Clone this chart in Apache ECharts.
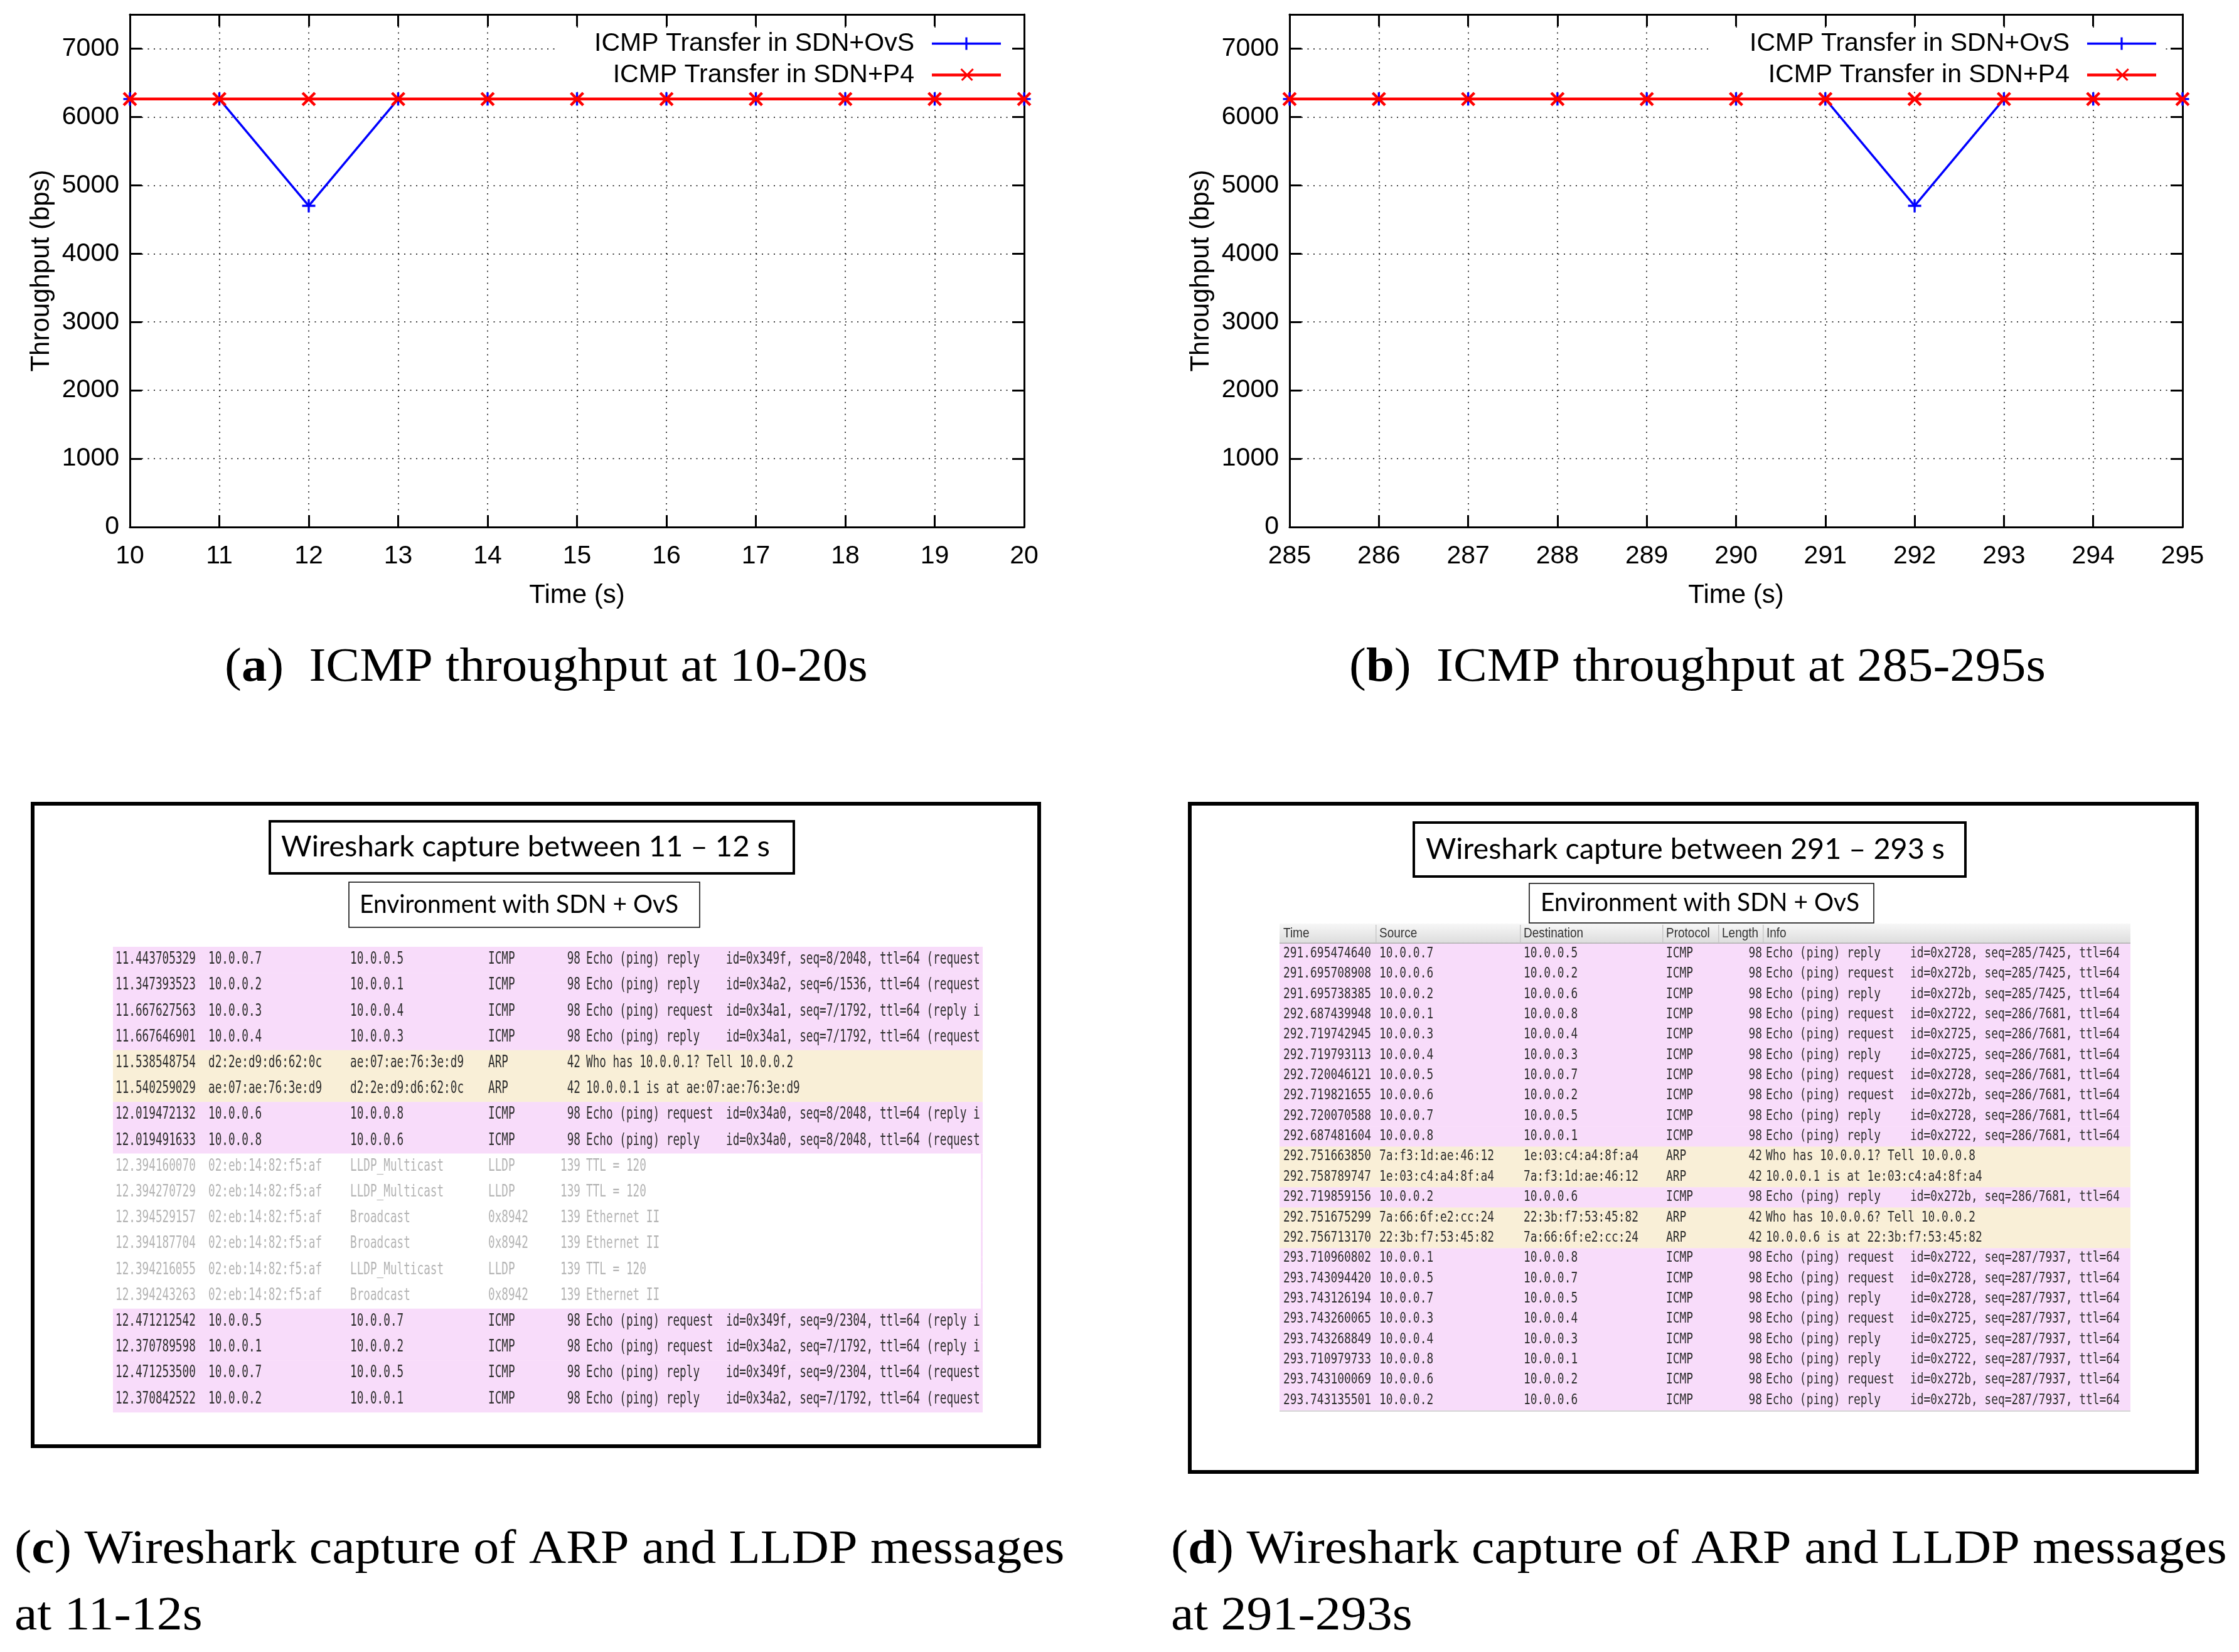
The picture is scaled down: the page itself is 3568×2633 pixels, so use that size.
<!DOCTYPE html>
<html><head><meta charset="utf-8">
<script src="https://cdn.jsdelivr.net/npm/echarts@6/dist/echarts.min.js"></script>
<style>html,body{margin:0;padding:0;background:#fff}#c{width:3568px;height:2633px}</style>
</head><body><div id="c"></div>
<script>
// ---------------- DATA ----------------
const seriesNames = ['ICMP Transfer in SDN+OvS', 'ICMP Transfer in SDN+P4'];
const timeA = [10, 11, 12, 13, 14, 15, 16, 17, 18, 19, 20];
const ovsA  = [6262, 6262, 4700, 6262, 6262, 6262, 6262, 6262, 6262, 6262, 6262];
const p4A   = [6262, 6262, 6262, 6262, 6262, 6262, 6262, 6262, 6262, 6262, 6262];
const timeB = [285, 286, 287, 288, 289, 290, 291, 292, 293, 294, 295];
const ovsB  = [6262, 6262, 6262, 6262, 6262, 6262, 6262, 4700, 6262, 6262, 6262];
const p4B   = [6262, 6262, 6262, 6262, 6262, 6262, 6262, 6262, 6262, 6262, 6262];
const yAxisName = 'Throughput (bps)';
const xAxisName = 'Time (s)';

const captionA = '({b|a})  ICMP throughput at 10-20s';
const captionB = '({b|b})  ICMP throughput at 285-295s';
const captionC = ['({b|c}) Wireshark capture of ARP and LLDP messages', 'at 11-12s'];
const captionD = ['({b|d}) Wireshark capture of ARP and LLDP messages', 'at 291-293s'];

const titleC = 'Wireshark capture between 11 \u2013 12 s';
const titleD = 'Wireshark capture between 291 \u2013 293 s';
const envLabel = 'Environment with SDN + OvS';

const headerD = ['Time', 'Source', 'Destination', 'Protocol', 'Length', 'Info'];

// [time, source, destination, protocol, length, info, detail]
const captureC = [
  ['11.443705329','10.0.0.7','10.0.0.5','ICMP','98','Echo (ping) reply','id=0x349f, seq=8/2048, ttl=64 (request'],
  ['11.347393523','10.0.0.2','10.0.0.1','ICMP','98','Echo (ping) reply','id=0x34a2, seq=6/1536, ttl=64 (request'],
  ['11.667627563','10.0.0.3','10.0.0.4','ICMP','98','Echo (ping) request','id=0x34a1, seq=7/1792, ttl=64 (reply i'],
  ['11.667646901','10.0.0.4','10.0.0.3','ICMP','98','Echo (ping) reply','id=0x34a1, seq=7/1792, ttl=64 (request'],
  ['11.538548754','d2:2e:d9:d6:62:0c','ae:07:ae:76:3e:d9','ARP','42','Who has 10.0.0.1? Tell 10.0.0.2',''],
  ['11.540259029','ae:07:ae:76:3e:d9','d2:2e:d9:d6:62:0c','ARP','42','10.0.0.1 is at ae:07:ae:76:3e:d9',''],
  ['12.019472132','10.0.0.6','10.0.0.8','ICMP','98','Echo (ping) request','id=0x34a0, seq=8/2048, ttl=64 (reply i'],
  ['12.019491633','10.0.0.8','10.0.0.6','ICMP','98','Echo (ping) reply','id=0x34a0, seq=8/2048, ttl=64 (request'],
  ['12.394160070','02:eb:14:82:f5:af','LLDP_Multicast','LLDP','139','TTL = 120',''],
  ['12.394270729','02:eb:14:82:f5:af','LLDP_Multicast','LLDP','139','TTL = 120',''],
  ['12.394529157','02:eb:14:82:f5:af','Broadcast','0x8942','139','Ethernet II',''],
  ['12.394187704','02:eb:14:82:f5:af','Broadcast','0x8942','139','Ethernet II',''],
  ['12.394216055','02:eb:14:82:f5:af','LLDP_Multicast','LLDP','139','TTL = 120',''],
  ['12.394243263','02:eb:14:82:f5:af','Broadcast','0x8942','139','Ethernet II',''],
  ['12.471212542','10.0.0.5','10.0.0.7','ICMP','98','Echo (ping) request','id=0x349f, seq=9/2304, ttl=64 (reply i'],
  ['12.370789598','10.0.0.1','10.0.0.2','ICMP','98','Echo (ping) request','id=0x34a2, seq=7/1792, ttl=64 (reply i'],
  ['12.471253500','10.0.0.7','10.0.0.5','ICMP','98','Echo (ping) reply','id=0x349f, seq=9/2304, ttl=64 (request'],
  ['12.370842522','10.0.0.2','10.0.0.1','ICMP','98','Echo (ping) reply','id=0x34a2, seq=7/1792, ttl=64 (request']
];

const captureD = [
  ['291.695474640','10.0.0.7','10.0.0.5','ICMP','98','Echo (ping) reply','id=0x2728, seq=285/7425, ttl=64'],
  ['291.695708908','10.0.0.6','10.0.0.2','ICMP','98','Echo (ping) request','id=0x272b, seq=285/7425, ttl=64'],
  ['291.695738385','10.0.0.2','10.0.0.6','ICMP','98','Echo (ping) reply','id=0x272b, seq=285/7425, ttl=64'],
  ['292.687439948','10.0.0.1','10.0.0.8','ICMP','98','Echo (ping) request','id=0x2722, seq=286/7681, ttl=64'],
  ['292.719742945','10.0.0.3','10.0.0.4','ICMP','98','Echo (ping) request','id=0x2725, seq=286/7681, ttl=64'],
  ['292.719793113','10.0.0.4','10.0.0.3','ICMP','98','Echo (ping) reply','id=0x2725, seq=286/7681, ttl=64'],
  ['292.720046121','10.0.0.5','10.0.0.7','ICMP','98','Echo (ping) request','id=0x2728, seq=286/7681, ttl=64'],
  ['292.719821655','10.0.0.6','10.0.0.2','ICMP','98','Echo (ping) request','id=0x272b, seq=286/7681, ttl=64'],
  ['292.720070588','10.0.0.7','10.0.0.5','ICMP','98','Echo (ping) reply','id=0x2728, seq=286/7681, ttl=64'],
  ['292.687481604','10.0.0.8','10.0.0.1','ICMP','98','Echo (ping) reply','id=0x2722, seq=286/7681, ttl=64'],
  ['292.751663850','7a:f3:1d:ae:46:12','1e:03:c4:a4:8f:a4','ARP','42','Who has 10.0.0.1? Tell 10.0.0.8',''],
  ['292.758789747','1e:03:c4:a4:8f:a4','7a:f3:1d:ae:46:12','ARP','42','10.0.0.1 is at 1e:03:c4:a4:8f:a4',''],
  ['292.719859156','10.0.0.2','10.0.0.6','ICMP','98','Echo (ping) reply','id=0x272b, seq=286/7681, ttl=64'],
  ['292.751675299','7a:66:6f:e2:cc:24','22:3b:f7:53:45:82','ARP','42','Who has 10.0.0.6? Tell 10.0.0.2',''],
  ['292.756713170','22:3b:f7:53:45:82','7a:66:6f:e2:cc:24','ARP','42','10.0.0.6 is at 22:3b:f7:53:45:82',''],
  ['293.710960802','10.0.0.1','10.0.0.8','ICMP','98','Echo (ping) request','id=0x2722, seq=287/7937, ttl=64'],
  ['293.743094420','10.0.0.5','10.0.0.7','ICMP','98','Echo (ping) request','id=0x2728, seq=287/7937, ttl=64'],
  ['293.743126194','10.0.0.7','10.0.0.5','ICMP','98','Echo (ping) reply','id=0x2728, seq=287/7937, ttl=64'],
  ['293.743260065','10.0.0.3','10.0.0.4','ICMP','98','Echo (ping) request','id=0x2725, seq=287/7937, ttl=64'],
  ['293.743268849','10.0.0.4','10.0.0.3','ICMP','98','Echo (ping) reply','id=0x2725, seq=287/7937, ttl=64'],
  ['293.710979733','10.0.0.8','10.0.0.1','ICMP','98','Echo (ping) reply','id=0x2722, seq=287/7937, ttl=64'],
  ['293.743100069','10.0.0.6','10.0.0.2','ICMP','98','Echo (ping) request','id=0x272b, seq=287/7937, ttl=64'],
  ['293.743135501','10.0.0.2','10.0.0.6','ICMP','98','Echo (ping) reply','id=0x272b, seq=287/7937, ttl=64']
];

// ---------------- STYLE / LAYOUT ----------------
const SANS = '"Liberation Sans", Arial, sans-serif';
const SERIF = '"Liberation Serif", "Times New Roman", serif';
const MONO = '"DejaVu Sans Mono", "Liberation Mono", monospace';
const TITLEF = 'Lato, "Open Sans", sans-serif';
const PINK = '#f8dcfa';
const BEIGE = '#f9efd7';
const PLUS = 'path://M8.4,0H11.6V8.4H20V11.6H11.6V20H8.4V11.6H0V8.4H8.4Z';

// legend keys (line sample with its marker), drawn in a 133x30 box; specks at the box corners keep its extent
const KEY_BOX = 'M0,0h0.01v0.01h-0.01Z M0,29.99h0.01v0.01h-0.01Z ';
const KEY_OVS = 'path://' + KEY_BOX + 'M23,13.25H133V16.75H23Z M76.4,5H79.6V13.4H88V16.6H79.6V25H76.4V16.6H68V13.4H76.4Z';
const KEY_P4 = 'path://' + KEY_BOX + 'M23,12.75H133V17.25H23Z ' +
  'M70.6,4.4L88.6,22.4L86.4,24.6L68.4,6.6Z M87.6,4.4L89.8,6.6L71.8,24.6L69.6,22.4Z';

const measureCtx = document.createElement('canvas').getContext('2d');
function textW(str, font) { measureCtx.font = font; return measureCtx.measureText(str).width; }

const chart = echarts.init(document.getElementById('c'), null, {renderer: 'canvas', width: 3568, height: 2633});

const grids = [
  {left: 207, top: 23, width: 1425, height: 817},
  {left: 2055, top: 23, width: 1423, height: 817}
];
const xRanges = [[timeA[0], timeA[timeA.length - 1]], [timeB[0], timeB[timeB.length - 1]]];

const axisLineStyle = {color: '#000', width: 3};
const tickStyle = {show: true, inside: true, length: 19, lineStyle: {color: '#000', width: 3}};
const gridLine = {show: true, lineStyle: {color: '#000', width: 1.5, type: [2, 7.5]}};
const labelStyle = {fontFamily: SANS, fontSize: 41, color: '#000', formatter: v => String(v)};

const xAxes = [], yAxes = [];
grids.forEach((g, gi) => {
  xAxes.push({
    gridIndex: gi, type: 'value', position: 'bottom', min: xRanges[gi][0], max: xRanges[gi][1], interval: 1,
    axisLine: {show: true, onZero: false, lineStyle: axisLineStyle}, axisTick: tickStyle,
    axisLabel: Object.assign({margin: 26, showMinLabel: true, showMaxLabel: true}, labelStyle),
    splitLine: gridLine,
    name: xAxisName, nameLocation: 'middle', nameGap: 88,
    nameTextStyle: {fontFamily: SANS, fontSize: 42, color: '#000'}
  });
  xAxes.push({
    gridIndex: gi, type: 'value', position: 'top', min: xRanges[gi][0], max: xRanges[gi][1], interval: 1,
    axisLine: {show: true, onZero: false, lineStyle: axisLineStyle}, axisTick: tickStyle,
    axisLabel: {show: false}, splitLine: {show: false}
  });
  yAxes.push({
    gridIndex: gi, type: 'value', position: 'left', min: 0, max: 7500, interval: 1000,
    axisLine: {show: true, lineStyle: axisLineStyle}, axisTick: tickStyle,
    axisLabel: Object.assign({margin: 17, showMaxLabel: false}, labelStyle),
    splitLine: gridLine,
    name: yAxisName, nameLocation: 'middle', nameGap: 120,
    nameTextStyle: {fontFamily: SANS, fontSize: 42, color: '#000'}
  });
  yAxes.push({
    gridIndex: gi, type: 'value', position: 'right', min: 0, max: 7500, interval: 1000,
    axisLine: {show: true, lineStyle: axisLineStyle}, axisTick: tickStyle,
    axisLabel: {show: false}, splitLine: {show: false}
  });
});

function ovsSeries(xs, ys, gi) {
  return {
    name: seriesNames[0], type: 'line', xAxisIndex: gi * 2, yAxisIndex: gi * 2,
    data: xs.map((x, i) => [x, ys[i]]),
    symbol: PLUS, symbolSize: 21, showSymbol: true, clip: false,
    lineStyle: {color: '#0000ff', width: 3.5}, itemStyle: {color: '#0000ff'},
    emphasis: {disabled: true}, z: 2
  };
}
function p4Series(xs, ys, gi) {
  return {
    name: seriesNames[1], type: 'line', xAxisIndex: gi * 2, yAxisIndex: gi * 2,
    data: xs.map((x, i) => [x, ys[i]]),
    symbol: PLUS, symbolSize: 28, symbolRotate: 45, showSymbol: true, clip: false,
    lineStyle: {color: '#ff0000', width: 4.5}, itemStyle: {color: '#ff0000'},
    emphasis: {disabled: true}, z: 3
  };
}

function legendFor(rightEdge) {
  return {
    orient: 'vertical', align: 'right', right: 3568 - rightEdge, top: 47,
    padding: [2, 15, 5, 62], backgroundColor: '#fff',
    itemWidth: 133, itemHeight: 30, itemGap: 9, selectedMode: false,
    textStyle: {fontFamily: SANS, fontSize: 41, color: '#000', lineHeight: 41},
    data: [{name: seriesNames[0], icon: KEY_OVS}, {name: seriesNames[1], icon: KEY_P4}]
  };
}

// ---------------- GRAPHICS (captions + wireshark panels) ----------------
const G = [];
function txt(x, y, text, font, fill, opt) {
  opt = opt || {};
  G.push({
    type: 'text', x: x, y: y, scaleX: opt.sx || 1, scaleY: opt.sy || 1, silent: true, z: opt.z || 10,
    style: Object.assign({text: text, x: 0, y: 0, font: font, fill: fill,
      align: opt.align || 'left', verticalAlign: 'middle',
      textAlign: opt.align || 'left', textVerticalAlign: 'middle'}, opt.style || {})
  });
}
function rect(x, y, w, h, style, z) {
  G.push({type: 'rect', silent: true, z: z || 5, shape: {x: x, y: y, width: w, height: h}, style: style});
}

// captions
const capFont = {fontFamily: SERIF, fontSize: 76, rich: {b: {fontFamily: SERIF, fontSize: 76, fontWeight: 'bold', fill: '#000'}}};
function caption(x, y, t, sx) {
  G.push({type: 'text', x: x, y: y, scaleX: sx, silent: true, z: 10,
    style: Object.assign({text: t, x: 0, y: 0, fill: '#000', align: 'left', verticalAlign: 'middle',
      textAlign: 'left', textVerticalAlign: 'middle'}, capFont)});
}
caption(358, 1065, captionA, 1.062);
caption(2150, 1065, captionB, 1.062);
caption(23, 2471, captionC[0], 1.078);
caption(23, 2577, captionC[1], 1.078);
caption(1866, 2471, captionD[0], 1.078);
caption(1866, 2577, captionD[1], 1.078);

// panel frames and titles
function panel(P, title, rows, L) {
  rect(P.x0, P.y0, P.x1 - P.x0, P.y1 - P.y0, {fill: '#fff', stroke: '#000', lineWidth: 6}, 3);
  rect(P.tx0, P.ty0, P.tx1 - P.tx0, P.ty1 - P.ty0, {fill: '#fff', stroke: '#000', lineWidth: 4}, 6);
  const tf = '46px ' + TITLEF;
  txt(P.ttextX, (P.ty0 + P.ty1) / 2, title, tf, '#000', {sx: P.ttextW / textW(title, tf), z: 12});
  rect(P.sx0, P.sy0, P.sx1 - P.sx0, P.sy1 - P.sy0, {fill: '#fff', stroke: '#000', lineWidth: 1.5}, 6);
  const sf = '40px ' + TITLEF;
  txt(P.stextX, (P.sy0 + P.sy1) / 2, envLabel, sf, '#000', {sx: P.stextW / textW(envLabel, sf), z: 12});

  // table rows
  rows.forEach((r, i) => {
    const y0 = L.top + i * L.rowH;
    const kind = r[3];
    const bg = kind === 'ICMP' ? PINK : (kind === 'ARP' ? BEIGE : '#fff');
    rect(L.left, y0, L.right - L.left, L.rowH + 0.6, {fill: bg}, 7);
    if (bg === '#fff' && L.edge) rect(L.right - 3, y0, 3, L.rowH + 0.6, {fill: PINK}, 7);
    const fg = bg === '#fff' ? '#b4b4b4' : '#2e2e2e';
    const cy = y0 + L.rowH / 2;
    const o = {sy: L.sy, z: 11};
    for (let c = 0; c < 4; c++) txt(L.cols[c], cy, r[c], L.font, fg, o);
    txt(L.lenRight, cy, r[4], L.font, fg, {sy: L.sy, z: 11, align: 'right'});
    txt(L.infoX, cy, r[5], L.font, fg, o);
    if (r[6]) txt(L.idX, cy, r[6], L.font, fg, o);
  });
}

panel({x0: 52, y0: 1281, x1: 1656, y1: 2305,
       tx0: 430, ty0: 1309, tx1: 1265, ty1: 1392, ttextX: 448, ttextW: 779,
       sx0: 556, sy0: 1406, sx1: 1115, sy1: 1478, stextX: 573, stextW: 508},
      titleC, captureC,
      {left: 180, right: 1566, top: 1509, rowH: 41.2, cols: [184, 332, 558, 778], lenRight: 925,
       infoX: 934, idX: 1157, font: '17.7px ' + MONO, sy: 1.45, edge: true});

// header for (d)
(function () {
  const hx0 = 2039, hx1 = 3395, hy0 = 1472, hy1 = 1504;
  rect(hx0, hy0, hx1 - hx0, hy1 - hy0, {fill: {type: 'linear', x: 0, y: 0, x2: 0, y2: 1,
    colorStops: [{offset: 0, color: '#f7f7f7'}, {offset: 1, color: '#dcdcdc'}]}}, 8);
  const hxs = [2045, 2198, 2428, 2655, 2744, 2815];
  hxs.forEach((x, i) => {
    if (i > 0) rect(x - 6, hy0 + 2, 1.5, hy1 - hy0 - 4, {fill: '#c8c8c8'}, 9);
    txt(x, (hy0 + hy1) / 2, headerD[i], '19px ' + SANS, '#333', {sy: 1.2, z: 12});
  });
  rect(hx0, hy1 - 1.5, hx1 - hx0, 1.5, {fill: '#b0b0b0'}, 9);
})();

panel({x0: 1896, y0: 1281, x1: 3501, y1: 2346,
       tx0: 2253, ty0: 1311, tx1: 3132, ty1: 1397, ttextX: 2272, ttextW: 827,
       sx0: 2437, sy0: 1408, sx1: 2986, sy1: 1471, stextX: 2455, stextW: 508},
      titleD, captureD,
      {left: 2039, right: 3395, top: 1504, rowH: 32.35, cols: [2045, 2198, 2428, 2655], lenRight: 2808,
       infoX: 2814, idX: 3044, font: '17.9px ' + MONO, sy: 1.25, edge: false});
rect(2039, 1504 + 23 * 32.35, 3395 - 2039, 2, {fill: '#d6d6d6'}, 9);

// ---------------- OPTION ----------------
const option = {
  animation: false,
  backgroundColor: '#fff',
  grid: grids,
  xAxis: xAxes,
  yAxis: yAxes,
  legend: [legendFor(1610), legendFor(3451)],
  series: [
    ovsSeries(timeA, ovsA, 0), p4Series(timeA, p4A, 0),
    ovsSeries(timeB, ovsB, 1), p4Series(timeB, p4B, 1)
  ],
  graphic: G
};
chart.setOption(option);
</script></body></html>
